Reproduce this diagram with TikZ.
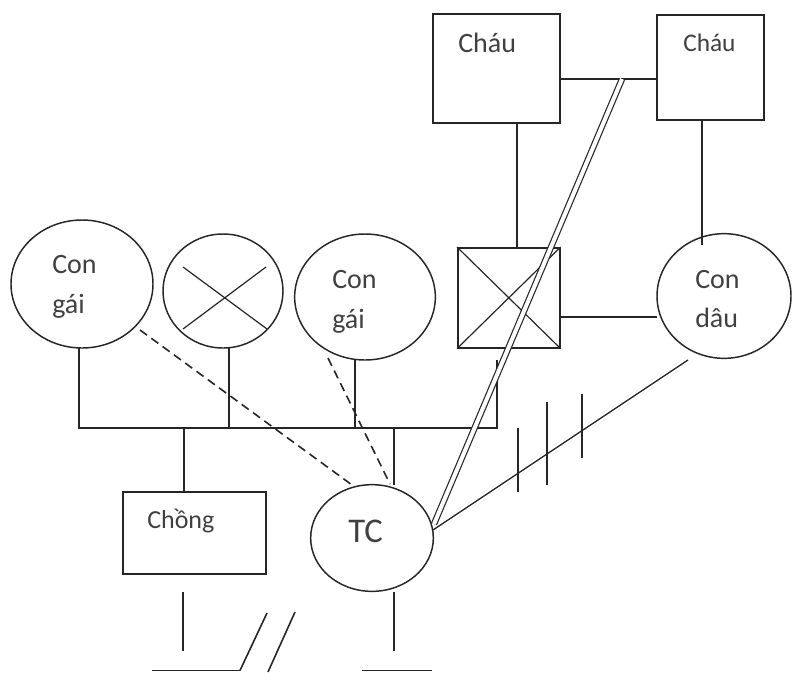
\documentclass[tikz,border=0pt]{standalone}
\usepackage{fontspec}
\setmainfont{Carlito}
\usetikzlibrary{shapes.geometric}
\begin{document}
\begin{tikzpicture}[x=0.75pt,y=-0.75pt,
  ln/.style={draw=black!85,line width=1.2pt},
  ell/.style={ellipse,ln,line width=1.1pt,inner sep=0pt},
  box/.style={rectangle,ln,inner sep=0pt,anchor=north west},
  lbl/.style={text=black!75,anchor=base west,inner sep=0pt,font=\fontsize{21}{24}\selectfont},
  dsh/.style={ln,dashed,dash pattern=on 6.5pt off 4pt}
]
\useasboundingbox (0,0) rectangle (792,672);
% ellipses
\node[ell,minimum width=106.5pt,minimum height=96pt] (cg1) at (82,284) {};
\node[ell,minimum width=90pt,minimum height=85.5pt] (cx) at (223,291) {};
\node[ell,minimum width=105.5pt,minimum height=94.5pt] (cg2) at (365,297) {};
\node[ell,minimum width=100.5pt,minimum height=93.5pt] (cd) at (724,296) {};
\node[ell,minimum width=92pt,minimum height=80pt] (tc) at (372,538) {};
% boxes
\node[box,minimum width=95.25pt,minimum height=81.75pt] (ch1) at (432,13) {};
\node[box,minimum width=80.25pt,minimum height=78.75pt] (ch2) at (656,14) {};
\node[box,minimum width=76.5pt,minimum height=75pt] (xb) at (457,247) {};
\node[box,minimum width=107.25pt,minimum height=61.5pt] (chong) at (122,491) {};
% labels
\node[lbl] (t1) at (458,52) {Cháu};
\node[lbl,font=\fontsize{19}{22}\selectfont] (t2) at (683,51) {Cháu};
\node[lbl] (t3) at (52,273) {Con};
\node[lbl] (t4) at (52,313) {gái};
\node[lbl] (t5) at (332,288) {Con};
\node[lbl] (t6) at (332,328) {gái};
\node[lbl] (t7) at (695,288) {Con};
\node[lbl] (t8) at (695,327) {dâu};
\node[lbl,font=\fontsize{19.5}{22}\selectfont] (t9) at (147,528) {Chồng};
\node[lbl,font=\fontsize{26}{30}\selectfont] (t10) at (348,542) {TC};
% crosses
\draw[ln,line width=0.9pt] (xb.north west) -- (xb.south east) (xb.south west) -- (xb.north east);
\coordinate (cxa) at (183,267); \coordinate (cxb) at (267,329);
\coordinate (cxc) at (183,329); \coordinate (cxd) at (266,267);
\draw[ln,line width=0.9pt] (cxa) -- (cxb) (cxc) -- (cxd);
% coordinates
\coordinate (h1) at (79,428); \coordinate (h2) at (497,428); \coordinate (h2t) at (497,360);
\coordinate (cg1b) at (79,348); \coordinate (cxbot) at (229,348); \coordinate (cg2b) at (355,360);
\coordinate (hx) at (229,428); \coordinate (hcg2) at (355,428);
\coordinate (hch) at (184,428); \coordinate (chongt) at (184,491);
\coordinate (htc) at (394,428); \coordinate (tct) at (394,485);
\coordinate (ch1r) at (559,79); \coordinate (ch2l) at (656,79);
\coordinate (ch1b) at (517,122); \coordinate (xbt) at (517,247);
\coordinate (ch2b) at (702,119); \coordinate (cdt) at (702,245);
\coordinate (xbr) at (559,317); \coordinate (cdl) at (657,317);
\coordinate (cdb) at (688,360); \coordinate (tcr) at (433,530);
\coordinate (dtop) at (622,79); \coordinate (dbot) at (434,524);
\coordinate (d1a) at (140,330); \coordinate (d1b) at (352,485);
\coordinate (d2a) at (328,358); \coordinate (d2b) at (390,484);
% sibling line
\draw[ln] (cg1b) -- (h1) -- (h2) -- (h2t);
\draw[ln] (cxbot) -- (hx);
\draw[ln] (cg2b) -- (hcg2);
\draw[ln] (hch) -- (chongt);
\draw[ln] (htc) -- (tct);
% top
\draw[ln] (ch1r) -- (ch2l);
\draw[ln] (ch1b) -- (xbt);
\draw[ln] (ch2b) -- (cdt);
\draw[ln] (xbr) -- (cdl);
\draw[ln,line width=1pt] (cdb) -- (tcr);
\draw[draw=black!85,line width=0.9pt,double=white,double distance=3pt] (dtop) -- (dbot);
% dashed
\draw[dsh] (d1a) -- (d1b);
\draw[dsh] (d2a) -- (d2b);
% ticks
\coordinate (k1a) at (518,428); \coordinate (k1b) at (518,492);
\coordinate (k2a) at (547,402); \coordinate (k2b) at (547,485);
\coordinate (k3a) at (582,394); \coordinate (k3b) at (582,458);
\draw[ln] (k1a) -- (k1b) (k2a) -- (k2b) (k3a) -- (k3b);
% bottom
\coordinate (b1a) at (183,592); \coordinate (b1b) at (183,651);
\coordinate (b2a) at (394,592); \coordinate (b2b) at (394,651);
\coordinate (b3a) at (152,670.5); \coordinate (b3b) at (240,670.5);
\coordinate (b4a) at (362,670.5); \coordinate (b4b) at (432,670.5);
\coordinate (s1a) at (240,670.5); \coordinate (s1b) at (267,613);
\coordinate (s2a) at (268,672); \coordinate (s2b) at (295,612);
\draw[ln] (b1a) -- (b1b) (b2a) -- (b2b) (b3a) -- (b3b) (b4a) -- (b4b);
\draw[ln] (s1a) -- (s1b) (s2a) -- (s2b);
\end{tikzpicture}
\end{document}
